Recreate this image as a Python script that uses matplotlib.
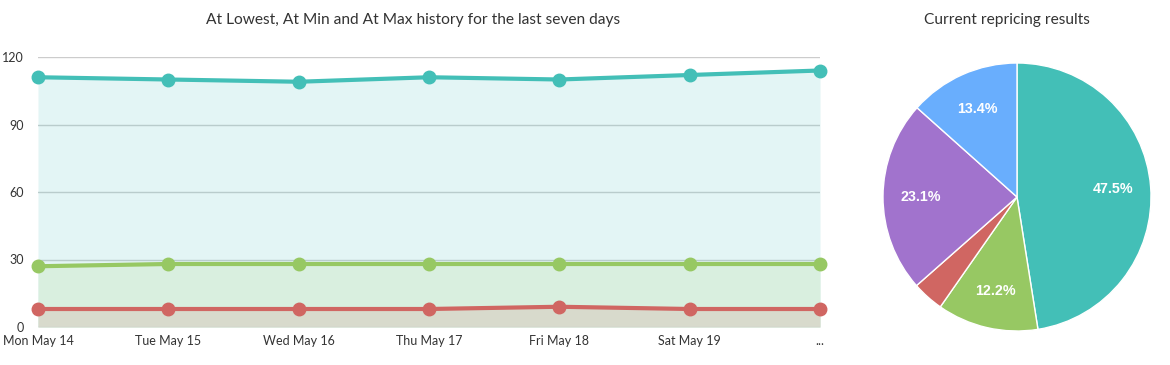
import matplotlib
matplotlib.use("Agg")
import matplotlib.pyplot as plt

plt.rcParams['font.family'] = ['Lato', 'DejaVu Sans']

days = ["Mon May 14", "Tue May 15", "Wed May 16", "Thu May 17", "Fri May 18", "Sat May 19", "..."]
at_max = [111, 110, 109, 111, 110, 112, 114]
at_min = [27, 28, 28, 28, 28, 28, 28]
at_lowest = [8, 8, 8, 8, 9, 8, 8]
yticks = [0, 30, 60, 90, 120]

pie_values = [47.5, 12.2, 3.8, 23.1, 13.4]
pie_colors = ["#43bfb7", "#97c863", "#d06662", "#a173cd", "#69aefd"]

line_colors = ["#43bfb7", "#97c863", "#d06662"]
fill_colors = ["#e3f5f5", "#d9efdf", "#d8dacc"]

fig = plt.figure(figsize=(11.7, 3.65), dpi=100)
ax = fig.add_axes([38/1170, 1-327/365, (820-38)/1170, 270/365])
x = list(range(len(days)))
for series, lc, fc in zip([at_max, at_min, at_lowest], line_colors, fill_colors):
    ax.fill_between(x, 0, series, color=fc, lw=0, zorder=1)
for series, lc in zip([at_max, at_min, at_lowest], line_colors):
    ax.plot(x, series, color=lc, lw=3, marker='o', ms=9, zorder=4, clip_on=False)
ax.set_xlim(0, 6)
ax.set_ylim(0, 120)
ax.set_yticks(yticks)
ax.set_xticks(x)
ax.set_xticklabels(days)
for yv in yticks[1:]:
    ax.axhline(yv, color="#cccccc" if yv == 120 else "#b9cccc", lw=1, zorder=2)
ax.axhline(0, color="#cccccc", lw=1, zorder=2)
for s in ax.spines.values():
    s.set_visible(False)
ax.tick_params(length=0, labelsize=9, colors="#333333", pad=6)
ax.tick_params(axis='y', pad=10)
fig.text(413/1170, 1-20/365, "At Lowest, At Min and At Max history for the last seven days",
         ha='center', va='center', fontsize=11.2, color="#333333")

pax = fig.add_axes([883/1170, 1-331/365, 268/1170, 268/365])
wedges, texts, autotexts = pax.pie(
    pie_values, colors=pie_colors, startangle=90, counterclock=False,
    wedgeprops=dict(edgecolor="white", linewidth=1),
    autopct=lambda p: f"{p:.1f}%" if p > 5 else "", pctdistance=0.72,
    textprops=dict(color="white", fontsize=10.3, fontweight="bold",
                   family=['Liberation Sans', 'DejaVu Sans']))
pax.set_xlim(-1, 1)
pax.set_ylim(-1, 1)
pax.set_aspect('equal')
fig.text(1007/1170, 1-20/365, "Current repricing results", ha='center', va='center',
         fontsize=11.2, color="#333333")

fig.savefig("out.png", dpi=100)
